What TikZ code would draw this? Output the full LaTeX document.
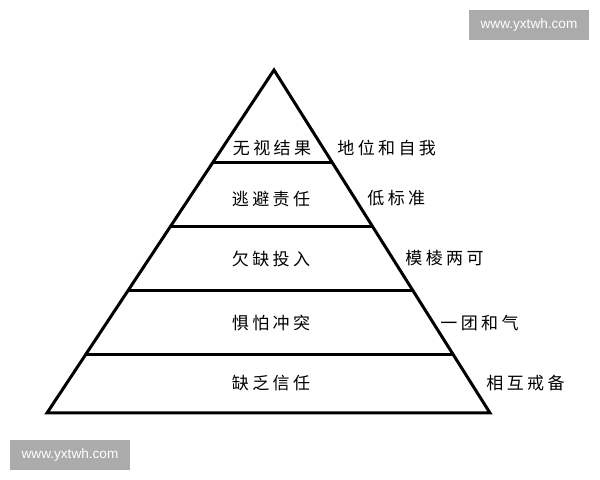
\documentclass[tikz,border=0pt]{standalone}
\usepackage{fontspec}
\setsansfont{Liberation Sans}
\newfontfamily\cjk[LetterSpace=20]{Noto Sans CJK SC}
\usetikzlibrary{calc}
\begin{document}
\begin{tikzpicture}[
    x=0.5pt, y=-0.5pt,
    lato/.style={draw=black, line width=1.5pt, line join=miter},
    livello/.style={font=\fontsize{8.5}{10}\selectfont\cjk, inner sep=0pt},
    causa/.style={font=\fontsize{8.5}{10}\selectfont\cjk, inner sep=0pt, anchor=west},
    marchio/.style={fill=gray!66, text=white, font=\fontsize{6.8}{8}\selectfont\sffamily, minimum width=60pt, minimum height=15pt, inner sep=0pt}
]
    \useasboundingbox (0,0) rectangle (600,480);

    % 1. Vertici della piramide
    \coordinate (A) at (274,70);
    \coordinate (BL) at (47,413);
    \coordinate (BR) at (490,413);

    % Punti dei gradini sui lati
    \coordinate (L1) at ($(A)!0.2711!(BL)$);
    \coordinate (R1) at ($(A)!0.2711!(BR)$);
    \coordinate (L2) at ($(A)!0.4577!(BL)$);
    \coordinate (R2) at ($(A)!0.4577!(BR)$);
    \coordinate (L3) at ($(A)!0.6443!(BL)$);
    \coordinate (R3) at ($(A)!0.6443!(BR)$);
    \coordinate (L4) at ($(A)!0.8280!(BL)$);
    \coordinate (R4) at ($(A)!0.8280!(BR)$);

    % 2. Contorno e gradini
    \draw[lato] (A) -- (BL) -- (BR) -- cycle;
    \draw[lato] (L1) -- (R1);
    \draw[lato] (L2) -- (R2);
    \draw[lato] (L3) -- (R3);
    \draw[lato] (L4) -- (R4);

    % 3. Testi dei livelli
    \node[livello] (V1) at (272,148) {无视结果};
    \node[livello] (V2) at (271,199) {逃避责任};
    \node[livello] (V3) at (271,259) {欠缺投入};
    \node[livello] (V4) at (271,323) {惧怕冲突};
    \node[livello] (V5) at (271,383) {缺乏信任};

    % 4. Testi a destra
    \node[causa] (C1) at (337,148) {地位和自我};
    \node[causa] (C2) at (367,198) {低标准};
    \node[causa] (C3) at (405,258) {模棱两可};
    \node[causa] (C4) at (440,323) {一团和气};
    \node[causa] (C5) at (486,383) {相互戒备};

    % 5. Marchi
    \node[marchio] (M1) at (529,25) {www.yxtwh.com};
    \node[marchio] (M2) at (70,455) {www.yxtwh.com};

\end{tikzpicture}
\end{document}
